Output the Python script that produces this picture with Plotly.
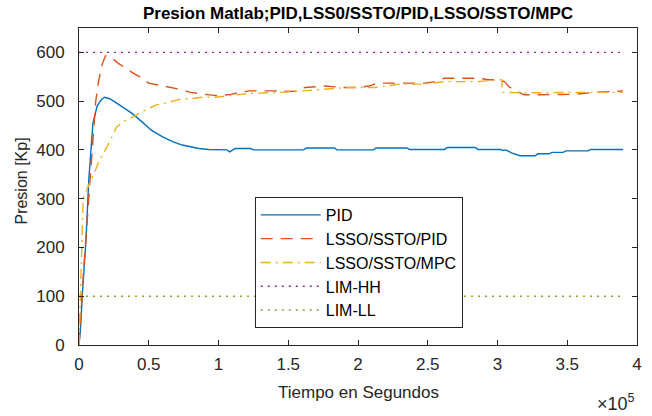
import plotly.graph_objects as go

# ---- data (time in seconds, pressure in Kp) ----
t_pid = [0, 1000, 2300, 3500, 5000, 7000, 10000, 13000, 16000, 18300,
         22000, 27000, 32000, 38000, 45000, 52000, 60000, 67000, 74000, 80000,
         86000, 93000, 100000, 106000, 108000, 112000, 123000, 125000, 161000, 163000,
         183000, 185000, 211000, 213000, 235000, 237000, 262000, 264000, 284000, 286000,
         302000, 304000, 306000, 310000, 316000, 327000, 329000, 337000, 339000, 347000,
         349000, 365000, 367000, 390000]
v_pid = [0, 30, 100, 150, 215, 338, 455, 490, 503, 508,
         505, 496, 487, 475, 458, 440, 427, 417, 410, 406,
         403, 401, 400, 400, 396, 403, 403, 400, 400, 404,
         404, 400, 400, 404, 404, 401, 401, 405, 405, 401,
         401, 399, 400, 394, 388, 388, 392, 392, 395, 395,
         398, 398, 401, 401]

t_lssopid = [0, 1200, 2300, 3500, 5000, 7000, 8500, 10000, 12000, 14000,
             16500, 19000, 23000, 28000, 33000, 38000, 43000, 47000, 50000, 57000,
             65000, 73000, 80000, 84000, 90000, 100000, 109000, 115000, 122000, 138000,
             155000, 158000, 162000, 176000, 190000, 200000, 208000, 214000, 230000, 248000,
             255000, 262000, 270000, 277000, 287000, 293000, 300000, 305000, 308000, 312000,
             319000, 330000, 340000, 355000, 370000, 385000, 390000]
v_lssopid = [0, 45, 102, 160, 220, 300, 380, 440, 500, 540,
             575, 593, 590, 578, 568, 559, 551, 544, 537, 533,
             528, 524, 518, 517, 514, 511, 514, 518, 521, 521,
             520, 525, 528, 531, 528, 528, 531, 537, 537, 537,
             540, 547, 547, 547, 547, 544, 544, 540, 530, 523,
             513, 513, 513, 514, 518, 521, 521]

t_mpc = [0, 500, 1000, 1500, 2000, 2500, 3000, 3500, 5000, 7000,
         10700, 15000, 20000, 27000, 33000, 39000, 45000, 52000, 55000, 62000,
         70000, 74000, 80000, 88000, 98000, 107000, 122000, 145000, 160000, 176000,
         193000, 212000, 230000, 248000, 262000, 285000, 303000, 303500, 320000, 360000,
         390000]
v_mpc = [0, 60, 120, 180, 240, 280, 300, 305, 315, 330,
         352, 380, 406, 447, 460, 468, 478, 488, 492, 496,
         503, 505, 505, 508, 508, 511, 516, 518, 521, 524,
         528, 528, 535, 535, 540, 540, 544, 518, 517, 518,
         518]

t_lim = [0, 390000]
v_hh = [600, 600]
v_ll = [100, 100]

x_tickvals = [0, 50000, 100000, 150000, 200000, 250000, 300000, 350000, 400000]
x_ticktext = ["0", "0.5", "1", "1.5", "2", "2.5", "3", "3.5", "4"]
y_tickvals = [0, 100, 200, 300, 400, 500, 600]

FONT = "Liberation Sans, Arial, Helvetica, sans-serif"
AX = "#262626"

fig = go.Figure()
fig.add_trace(go.Scatter(x=t_pid, y=v_pid, mode="lines", name="PID",
                         line=dict(color="#0072BD", width=1.4)))
fig.add_trace(go.Scatter(x=t_lssopid, y=v_lssopid, mode="lines", name="LSSO/SSTO/PID",
                         line=dict(color="#D95319", width=1.4, dash="12px,8px")))
fig.add_trace(go.Scatter(x=t_mpc, y=v_mpc, mode="lines", name="LSSO/SSTO/MPC",
                         line=dict(color="#EDB120", width=1.4, dash="10px,5px,2px,5px")))
fig.add_trace(go.Scatter(x=t_lim, y=v_hh, mode="lines", name="LIM-HH",
                         line=dict(color="#7E2F8E", width=1.4, dash="2px,5px")))
fig.add_trace(go.Scatter(x=t_lim, y=v_ll, mode="lines", name="LIM-LL",
                         line=dict(color="#77AC30", width=1.4, dash="2px,5px")))

fig.update_layout(
    width=652, height=416,
    margin=dict(l=79, r=10, t=28, b=71),
    paper_bgcolor="white", plot_bgcolor="white",
    font=dict(family=FONT, size=17, color=AX),
    showlegend=True,
    legend=dict(x=0.315, y=0.467, xanchor="left", yanchor="top",
                bgcolor="white", bordercolor=AX, borderwidth=1,
                font=dict(family=FONT, size=16, color="black"),
                itemwidth=60),
    title=dict(text="<b>Presion Matlab;PID,LSS0/SSTO/PID,LSSO/SSTO/MPC</b>",
               x=0.5, xref="paper", xanchor="center",
               y=1 - 13 / 416, yanchor="middle",
               font=dict(family=FONT, size=17, color="black")),
    annotations=[
        dict(text="Tiempo en Segundos", xref="paper", yref="paper",
             x=0.5, y=-(392 - 345) / 317, xanchor="center", yanchor="middle",
             showarrow=False, font=dict(family=FONT, size=17, color=AX)),
        dict(text="Presion [Kp]", xref="paper", yref="paper",
             x=(20 - 79) / 563, y=(345 - 181) / 317, xanchor="center", yanchor="middle",
             textangle=-90, showarrow=False, font=dict(family=FONT, size=16, color=AX)),
        dict(text="×10<sup>5</sup>", xref="paper", yref="paper",
             x=1.0, y=0, xanchor="right", yanchor="top", yshift=-44,
             showarrow=False, font=dict(family=FONT, size=18, color=AX)),
    ],
)
fig.update_xaxes(range=[0, 400000], tickvals=x_tickvals, ticktext=x_ticktext,
                 showgrid=False, zeroline=False, showline=True, linecolor=AX, linewidth=1,
                 mirror="ticks", ticks="inside", ticklen=5, tickcolor=AX,
                 ticklabelstandoff=4, tickfont=dict(size=17, color=AX))
fig.update_yaxes(range=[0, 650], tickvals=y_tickvals,
                 showgrid=False, zeroline=False, showline=True, linecolor=AX, linewidth=1,
                 mirror="ticks", ticks="inside", ticklen=5, tickcolor=AX,
                 ticklabelstandoff=10, tickfont=dict(size=17, color=AX))

fig.write_html("out.html")
